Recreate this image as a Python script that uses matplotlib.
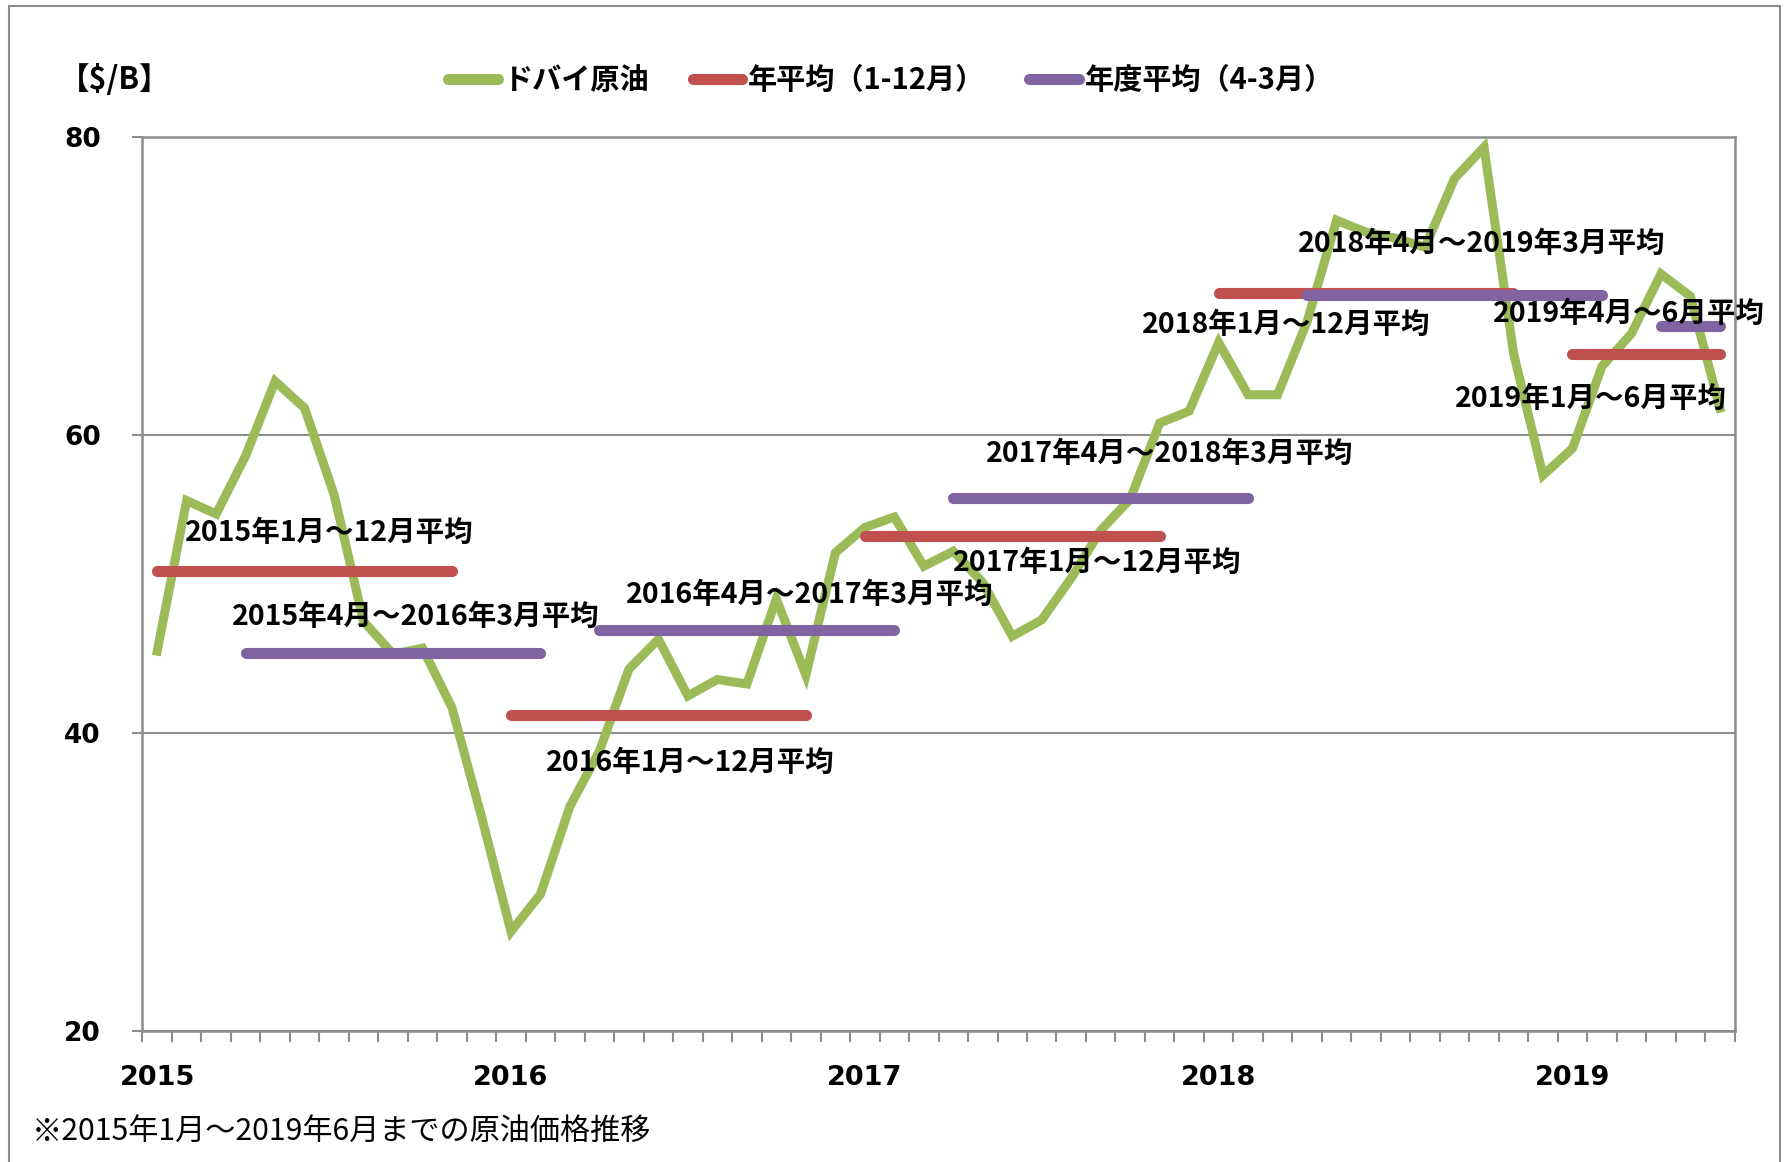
import numpy as np
import matplotlib.pyplot as plt
from matplotlib.lines import Line2D
from matplotlib.patches import Rectangle

plt.rcParams['font.family'] = ['Noto Sans CJK JP', 'DejaVu Sans']

# monthly Dubai crude price, Jan 2015 - Jun 2019 ($/B)
dubai = [45.5, 55.6, 54.7, 58.6, 63.6, 61.8, 56.0, 47.5, 45.3, 45.7, 41.7, 34.4,
         26.7, 29.2, 35.1, 38.8, 44.3, 46.3, 42.5, 43.6, 43.3, 49.0, 43.9, 52.1,
         53.8, 54.5, 51.2, 52.2, 50.1, 46.5, 47.6, 50.4, 53.6, 55.7, 60.8, 61.6,
         66.2, 62.7, 62.7, 67.6, 74.4, 73.6, 73.2, 72.6, 77.2, 79.3, 65.5, 57.3,
         59.1, 64.6, 66.8, 70.8, 69.3, 61.8]
years = ['2015', '2016', '2017', '2018', '2019']

# calendar-year averages (month index start / end)
cy_avg = [50.9, 41.2, 53.2, 69.5, 65.4]
cy_start = [0, 12, 24, 36, 48]
cy_end = [10, 22, 34, 46, 53]
cy_labels = ['2015年1月～12月平均', '2016年1月～12月平均', '2017年1月～12月平均',
             '2018年1月～12月平均', '2019年1月～6月平均']

# fiscal-year averages
fy_avg = [45.4, 46.9, 55.8, 69.4, 67.3]
fy_start = [3, 15, 27, 39, 51]
fy_end = [13, 25, 37, 49, 53]
fy_labels = ['2015年4月～2016年3月平均', '2016年4月～2017年3月平均',
             '2017年4月～2018年3月平均', '2018年4月～2019年3月平均',
             '2019年4月～6月平均']

green = '#9BBB59'
red = '#C0504D'
purple = '#8064A2'
grey = '#8C8C8C'

fig = plt.figure(figsize=(17.87, 11.62), dpi=100)
ax = fig.add_axes([0.0797, 0.1124, 0.891, 0.7699])

x = np.arange(len(dubai))
ax.plot(x, dubai, color=green, lw=6.5, solid_joinstyle='miter', zorder=3)
for v, s, e in zip(cy_avg, cy_start, cy_end):
    ax.plot([s, e], [v, v], color=red, lw=8, solid_capstyle='round', zorder=4)
for v, s, e in zip(fy_avg, fy_start, fy_end):
    ax.plot([s, e], [v, v], color=purple, lw=8, solid_capstyle='round', zorder=5)

# label positions (left edge, centre) in data coords
cy_pos = [(0.93, 53.4), (13.2, 38.0), (27.0, 51.4), (33.4, 67.4), (44.0, 62.4)]
fy_pos = [(2.55, 47.8), (15.9, 49.3), (28.1, 58.7), (38.7, 72.8), (45.3, 68.1)]
for t, (px, py) in zip(cy_labels + fy_labels, cy_pos + fy_pos):
    ax.text(px, py, t, fontsize=20.5, fontweight='bold', va='center', ha='left', zorder=6)

ax.set_xlim(-0.5, 53.5)
ax.set_ylim(20, 80)
ax.set_yticks([20, 40, 60, 80])
ax.set_yticklabels(['20', '40', '60', '80'], family='DejaVu Sans', fontweight='bold', fontsize=19)
ax.tick_params(axis='y', length=7, width=1.5, color=grey, pad=23)
ax.grid(axis='y', color=grey, lw=1.5)
ax.set_axisbelow(True)

ax.set_xticks(np.arange(-0.5, 54, 1))
ax.set_xticklabels([])
ax.tick_params(axis='x', which='major', length=8, width=1.5, color=grey)
ax.set_xticks([0, 12, 24, 36, 48], minor=True)
ax.set_xticklabels(years, minor=True, family='DejaVu Sans', fontweight='bold', fontsize=19.5)
ax.tick_params(axis='x', which='minor', length=0, pad=24)

for sp in ax.spines.values():
    sp.set_color(grey)
    sp.set_linewidth(1.8)

# unit and legend
fig.text(0.033, 0.931, '【$/B】', fontsize=22, fontweight='bold', va='center')
handles = [Line2D([], [], color=green, lw=8, solid_capstyle='round'),
           Line2D([], [], color=red, lw=8, solid_capstyle='round'),
           Line2D([], [], color=purple, lw=8, solid_capstyle='round')]
fig.legend(handles, ['ドバイ原油', '年平均（1-12月）', '年度平均（4-3月）'],
           loc='center left', bbox_to_anchor=(0.236, 0.931), ncol=3, frameon=False,
           handlelength=1.7, handletextpad=0.2, columnspacing=1.5,
           prop={'size': 21, 'weight': 'bold'})

fig.text(0.018, 0.026, '※2015年1月～2019年6月までの原油価格推移', fontsize=21.7, va='center')

fig.patches.append(Rectangle((0.005, -0.05), 0.991, 1.045, transform=fig.transFigure,
                             fill=False, edgecolor=grey, lw=1.5))

fig.savefig('out.png', dpi=100)
